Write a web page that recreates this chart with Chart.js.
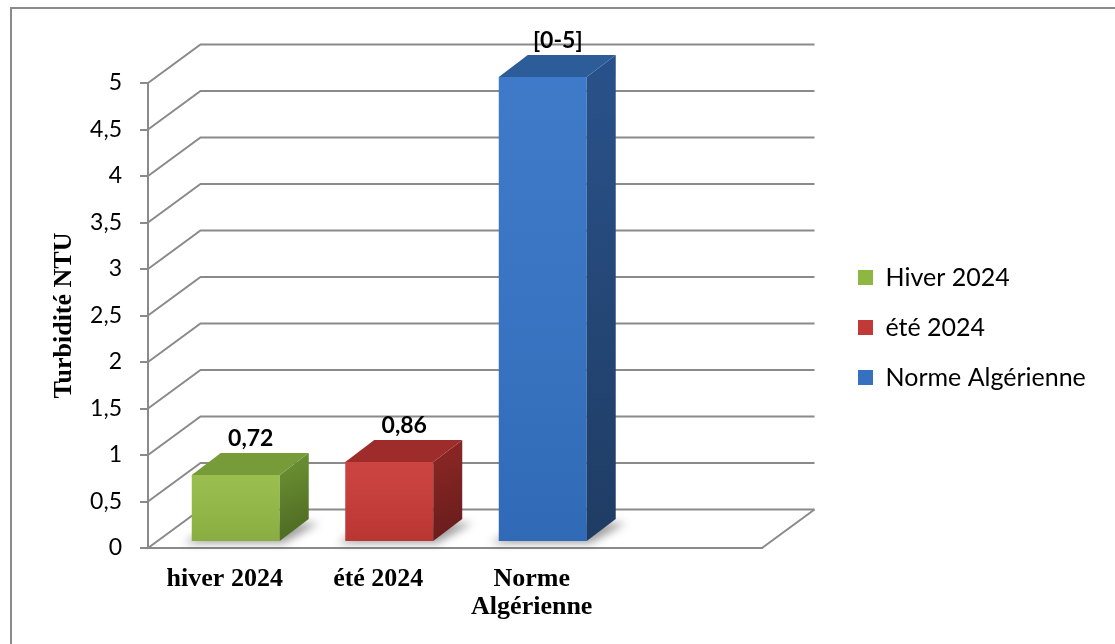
<!DOCTYPE html>
<html><head><meta charset="utf-8">
<script src="https://cdn.jsdelivr.net/npm/chart.js@4.4.1/dist/chart.umd.min.js"></script>
<style>html,body{margin:0;padding:0;background:#fff;overflow:hidden}canvas{display:block}</style>
</head><body>
<canvas id="c" width="1115" height="644"></canvas>
<script>
// ---- data ----
const categories = ['hiver 2024', 'été 2024', ['Norme', 'Algérienne'], ''];
const values = [0.72, 0.86, 5, null];
const valueLabels = ['0,72', '0,86', '[0-5]'];
const legendNames = ['Hiver 2024', 'été 2024', 'Norme Algérienne'];
const yTickLabels = ['0', '0,5', '1', '1,5', '2', '2,5', '3', '3,5', '4', '4,5', '5'];
const axisTitle = 'Turbidité NTU';

// ---- styles ----
const frontColors = ['#94bb45', '#c93a37', '#3473c6'];
const topColors = ['#789b39', '#9d2c2a', '#2d5d99'];
const sideTop = ['#678b30', '#862624', '#295189'];
const sideBottom = ['#4a6621', '#661c1b', '#1f3c63'];
const legendColors = ['#8db643', '#c23a38', '#3571c0'];
const GRID = '#8a8a8a';
const DEPTH = {x: 52.5, y: -38.5};
const BAR_SHIFT = {x: 11, y: -6};
const BAR_DEPTH = {x: 29, y: -22};

const threeD = {
  id: 'threeD',
  beforeDraw(chart) {
    const ctx = chart.ctx;
    ctx.save();
    ctx.strokeStyle = GRID; ctx.lineWidth = 2;
    ctx.strokeRect(11, 8, 1400, 900);
    ctx.restore();
    const lg = chart.legend;
    if (lg) {
      const h = lg.bottom - lg.top;
      lg.left = 833; lg.right = 1115; lg.width = 1115 - 833;
      lg.top = 240; lg.bottom = 240 + h;
    }
  },
  beforeDatasetsDraw(chart) {
    const {ctx, chartArea: a, scales: {y}} = chart;
    ctx.save();
    ctx.strokeStyle = GRID; ctx.lineWidth = 2;
    y.ticks.forEach(t => {
      const py = y.getPixelForValue(t.value);
      ctx.beginPath();
      ctx.moveTo(a.left, py);
      ctx.lineTo(a.left + DEPTH.x, py + DEPTH.y);
      ctx.lineTo(a.right + DEPTH.x, py + DEPTH.y);
      ctx.stroke();
    });
    ctx.beginPath();
    ctx.moveTo(a.right, a.bottom);
    ctx.lineTo(a.right + DEPTH.x, a.bottom + DEPTH.y);
    ctx.stroke();
    ctx.restore();

    ctx.save();
    ctx.translate(BAR_SHIFT.x, BAR_SHIFT.y);
    const meta = chart.getDatasetMeta(0);
    meta.data.forEach((bar, i) => {
      if (values[i] == null) return;
      const {x: bx, base, width} = bar.getProps(['x', 'base', 'width'], true);
      const l = bx - width / 2, r = bx + width / 2;
      ctx.save();
      ctx.filter = 'blur(4px)';
      ctx.fillStyle = 'rgba(0,0,0,0.38)';
      ctx.beginPath();
      ctx.moveTo(l - 8, base + 2);
      ctx.lineTo(r + 4, base + 2);
      ctx.lineTo(r + BAR_DEPTH.x + 10, base + BAR_DEPTH.y + 4);
      ctx.lineTo(l + BAR_DEPTH.x, base + BAR_DEPTH.y + 4);
      ctx.closePath();
      ctx.fill();
      ctx.restore();
    });
  },
  afterDatasetsDraw(chart) {
    const ctx = chart.ctx;
    const meta = chart.getDatasetMeta(0);
    const pos = [];
    meta.data.forEach((bar, i) => {
      if (values[i] == null) return;
      const {x: bx, y: by, base, width} = bar.getProps(['x', 'y', 'base', 'width'], true);
      const l = bx - width / 2, r = bx + width / 2;
      const dx = BAR_DEPTH.x, dy = BAR_DEPTH.y;
      const g = ctx.createLinearGradient(0, by, 0, base);
      g.addColorStop(0, 'rgba(255,255,255,0.05)');
      g.addColorStop(1, 'rgba(0,0,0,0.08)');
      ctx.fillStyle = g;
      ctx.fillRect(l, by, width, base - by);
      const sg = ctx.createLinearGradient(r, by, r + dx, base);
      sg.addColorStop(0, sideTop[i]);
      sg.addColorStop(1, sideBottom[i]);
      ctx.fillStyle = sg;
      ctx.beginPath();
      ctx.moveTo(r, by); ctx.lineTo(r + dx, by + dy); ctx.lineTo(r + dx, base + dy); ctx.lineTo(r, base);
      ctx.closePath(); ctx.fill();
      ctx.fillStyle = topColors[i];
      ctx.beginPath();
      ctx.moveTo(l, by); ctx.lineTo(r, by); ctx.lineTo(r + dx, by + dy); ctx.lineTo(l + dx, by + dy);
      ctx.closePath(); ctx.fill();
      pos.push({i, x: bx, y: by});
    });
    ctx.restore();
    ctx.save();
    ctx.font = 'bold 23px Lato';
    ctx.fillStyle = '#000';
    ctx.textAlign = 'center';
    ctx.textBaseline = 'middle';
    pos.forEach(p => {
      ctx.fillText(valueLabels[p.i], p.x + BAR_SHIFT.x + 15, p.y + BAR_SHIFT.y - 36);
    });
    ctx.restore();
  }
};

new Chart(document.getElementById('c'), {
  type: 'bar',
  data: {
    labels: categories,
    datasets: [{
      data: values,
      backgroundColor: frontColors,
      borderWidth: 0,
      barPercentage: 0.573,
      categoryPercentage: 1,
      clip: false
    }]
  },
  options: {
    responsive: false,
    animation: false,
    devicePixelRatio: 1,
    layout: {padding: {left: 0, top: 83, right: 203, bottom: 0}},
    plugins: {
      tooltip: {enabled: false},
      legend: {
        position: 'right',
        align: 'start',
        maxWidth: 150,
        labels: {
          boxWidth: 15, boxHeight: 15, padding: 25,
          color: '#000',
          font: {family: 'Lato', size: 25},
          generateLabels: () => legendNames.map((t, i) => ({
            text: t, fillStyle: legendColors[i], strokeStyle: legendColors[i],
            lineWidth: 0, hidden: false, index: i, datasetIndex: 0
          }))
        }
      }
    },
    scales: {
      x: {
        grid: {display: true, drawOnChartArea: false, drawTicks: false},
        border: {display: true, color: GRID, width: 2},
        ticks: {
          color: '#000', padding: 18, maxRotation: 0, autoSkip: false,
          font: {family: '"Liberation Serif", "Times New Roman", serif', size: 26, weight: 'bold', lineHeight: 1.05}
        },
        afterFit(s) { s.height = 96; }
      },
      y: {
        min: 0, max: 5,
        grid: {drawOnChartArea: false, drawTicks: true, tickLength: 8, color: GRID, lineWidth: 2},
        border: {display: true, color: GRID, width: 2},
        ticks: {
          stepSize: 0.5, padding: 18, color: '#000',
          font: {family: 'Lato', size: 23},
          callback: (v, i) => yTickLabels[i]
        },
        title: {
          display: true, text: axisTitle, color: '#000',
          font: {family: '"Liberation Serif", "Times New Roman", serif', size: 26, weight: 'bold'},
          padding: {top: 49, bottom: 0}
        },
        afterFit(s) { s.width = 148; }
      }
    }
  },
  plugins: [threeD]
});
</script>
</body></html>
